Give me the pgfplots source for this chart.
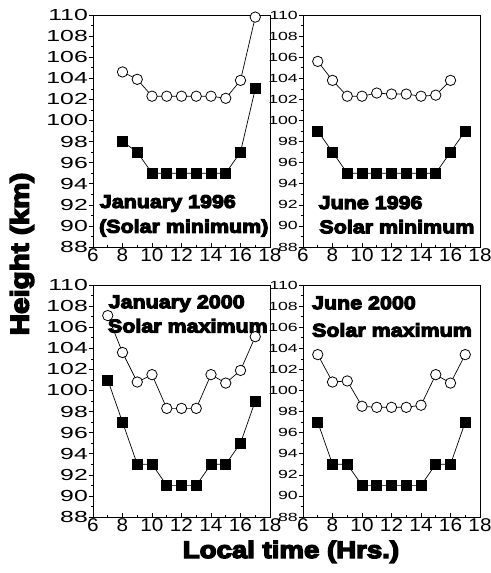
\documentclass[border=0pt]{standalone}
\usepackage{fontspec}
\setmainfont{Liberation Sans}
\newfontfamily\heavyfam[FakeStretch=1.16,FakeBold=6]{Liberation Sans Bold}
\newfontfamily\lyfam[FakeStretch=1.55]{Liberation Sans}
\newfontfamily\ryfam[FakeStretch=1.5]{Liberation Sans}
\newfontfamily\xfam[FakeStretch=1.12]{Liberation Sans}
\usepackage{pgfplots}
\pgfplotsset{compat=1.18}
\pgfplotsset{
  panel/.style={
    scale only axis, width=177bp, height=232bp, anchor=north west,
    xmin=6, xmax=18, ymin=88, ymax=110,
    xtick={6,8,...,18}, ytick={88,90,...,110},
    minor x tick num=1, minor y tick num=1,
    axis line style={line width=0.8bp},
    every tick/.style={black, line width=0.6bp},
    major tick length=4.5bp, minor tick length=2.5bp,
    xtick pos=bottom, ytick pos=left,
    xtick align=inside, ytick align=outside,
    /pgf/number format/assume math mode=true,
    xticklabel style={font=\xfam\fontsize{18.5bp}{18.5bp}\selectfont, inner sep=1bp, yshift=-0.5bp},
    clip=false,
  },
  bigy/.style={yticklabel style={font=\lyfam\fontsize{16bp}{16bp}\selectfont, inner sep=0.5bp}},
  smally/.style={yticklabel style={font=\ryfam\fontsize{11.8bp}{11.8bp}\selectfont, inner sep=0.5bp}},
  circ/.style={black, line width=0.7bp, mark=*, mark size=5.2bp, mark options={fill=white, draw=black, line width=0.8bp}},
  sq/.style={black, line width=0.7bp, mark=square*, mark size=5bp, mark options={fill=black, draw=black}},
}
\newcommand{\lab}{\heavyfam\fontsize{18.5bp}{18.5bp}\selectfont}
\begin{document}
\begin{tikzpicture}
\useasboundingbox (0,0) rectangle (491bp,-573bp);
% Panel 1: January 1996
\begin{axis}[panel, bigy, at={(93bp,-15bp)}]
\addplot[circ] coordinates {(8,104.6) (9,103.9) (10,102.3) (11,102.3) (12,102.3) (13,102.3) (14,102.3) (15,102.1) (16,103.8) (17,109.8)};
\addplot[sq] coordinates {(8,98) (9,97) (10,95) (11,95) (12,95) (13,95) (14,95) (15,95) (16,97) (17,103)};
\node[anchor=base west, inner sep=0pt, font=\lab] at (axis cs:6.45,91.7) {January 1996};
\node[anchor=base west, inner sep=0pt, font=\lab] at (axis cs:6.4,89.35) {(Solar minimum)};
\end{axis}
% Panel 2: June 1996
\begin{axis}[panel, smally, at={(303bp,-15bp)}]
\addplot[circ] coordinates {(7,105.6) (8,103.8) (9,102.3) (10,102.3) (11,102.6) (12,102.5) (13,102.5) (14,102.3) (15,102.4) (16,103.8)};
\addplot[sq] coordinates {(7,99) (8,97) (9,95) (10,95) (11,95) (12,95) (13,95) (14,95) (15,95) (16,97) (17,99)};
\node[anchor=base west, inner sep=0pt, font=\lab] at (axis cs:7.05,91.6) {June 1996};
\node[anchor=base west, inner sep=0pt, font=\lab] at (axis cs:7.1,89.3) {Solar minimum};
\end{axis}
% Panel 3: January 2000
\begin{axis}[panel, bigy, at={(93bp,-285bp)}]
\addplot[circ] coordinates {(7,107.1) (8,103.6) (9,100.8) (10,101.5) (11,98.3) (12,98.3) (13,98.3) (14,101.5) (15,100.7) (16,101.9) (17,105.1)};
\addplot[sq] coordinates {(7,101) (8,97) (9,93) (10,93) (11,91) (12,91) (13,91) (14,93) (15,93) (16,95) (17,99)};
\node[anchor=base west, inner sep=0pt, font=\lab] at (axis cs:7.05,107.8) {January 2000};
\node[anchor=base west, inner sep=0pt, font=\lab] at (axis cs:7.0,105.5) {Solar maximum};
\end{axis}
% Panel 4: June 2000
\begin{axis}[panel, smally, at={(303bp,-285bp)}]
\addplot[circ] coordinates {(7,103.4) (8,100.8) (9,100.9) (10,98.5) (11,98.4) (12,98.4) (13,98.4) (14,98.6) (15,101.5) (16,100.7) (17,103.4)};
\addplot[sq] coordinates {(7,97) (8,93) (9,93) (10,91) (11,91) (12,91) (13,91) (14,91) (15,93) (16,93) (17,97)};
\node[anchor=base west, inner sep=0pt, font=\lab] at (axis cs:6.6,107.7) {June 2000};
\node[anchor=base west, inner sep=0pt, font=\lab] at (axis cs:6.6,105.1) {Solar maximum};
\end{axis}
\node[rotate=90, inner sep=0pt, font=\heavyfam\fontsize{25.5bp}{25.5bp}\selectfont] at (22bp,-254bp) {Height (km)};
\node[anchor=base, inner sep=0pt, font=\heavyfam\fontsize{23.8bp}{23.8bp}\selectfont] at (291bp,-558bp) {Local time (Hrs.)};
\end{tikzpicture}
\end{document}
